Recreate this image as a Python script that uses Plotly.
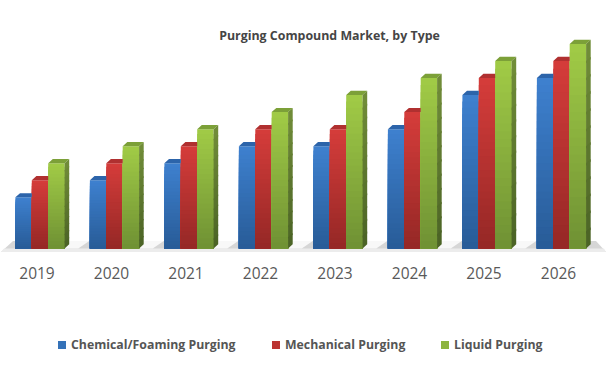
import plotly.graph_objects as go

years = ["2019", "2020", "2021", "2022", "2023", "2024", "2025", "2026"]
chemical = [3, 4, 5, 6, 6, 7, 9, 10]
mechanical = [4, 5, 6, 7, 7, 8, 10, 11]
liquid = [5, 6, 7, 8, 9, 10, 11, 12]
names = ["Chemical/Foaming Purging", "Mechanical Purging", "Liquid Purging"]

W, H = 611, 368
PX = 74.5
UNIT = 17.05
BW = 16.4 / PX
DX = 4.6 / PX
DY = 4.2 / UNIT
xpos = list(range(len(years)))
offsets = [-1.5 * BW, -0.5 * BW, 0.5 * BW]
series = [chemical, mechanical, liquid]
# (top colour, bottom colour, lid colour, side top, side bottom)
cols = [
    ((62, 128, 206), (40, 92, 152), (44, 100, 170), None, None),
    ((212, 60, 58), (150, 40, 38), (176, 48, 48), None, None),
    ((160, 202, 70), (112, 146, 52), (124, 160, 56), (112, 140, 56), (76, 100, 38)),
]

def lerp(a, b, t):
    return "rgb(%d,%d,%d)" % tuple(round(a[i] + (b[i] - a[i]) * t) for i in range(3))

fig = go.Figure()
N = 24
for s, vals in enumerate(series):
    c = cols[s]
    for k in range(N):
        frac = 1 - k / N
        fig.add_bar(
            x=xpos, y=[v * frac for v in vals], width=BW, offset=offsets[s],
            marker=dict(color=lerp(c[0], c[1], k / (N - 1)), line_width=0),
            name=names[s], showlegend=False, hoverinfo="skip",
        )
for s, vals in enumerate(series):
    c = cols[s]
    lx, ly = [], []
    for x, v in zip(xpos, vals):
        x0 = x + offsets[s]
        x1 = x0 + BW
        xr = x1 + DX if s == 2 else x1
        lx += [x0, x0 + DX, xr, x1, x0, None]
        ly += [v, v + DY, v + DY, v, v, None]
    fig.add_scatter(x=lx, y=ly, mode="lines", fill="toself", fillcolor=lerp(c[2], c[2], 0),
                    line=dict(width=0), showlegend=False, hoverinfo="skip")
# side faces of the last bar in each group
M = 12
c = cols[2]
for k in range(M):
    sx, sy = [], []
    for x, v in zip(xpos, liquid):
        x1 = x + offsets[2] + BW
        top = v * (1 - k / M)
        bot = max(v * (1 - (k + 1.15) / M), 0)
        sx += [x1, x1 + DX, x1 + DX, x1, x1, None]
        sy += [top, top + DY, bot + DY, bot, top, None]
    fig.add_scatter(x=sx, y=sy, mode="lines", fill="toself",
                    fillcolor=lerp(c[3], c[4], k / (M - 1)),
                    line=dict(width=0), showlegend=False, hoverinfo="skip")

center_px = 40.0
x_lo = -center_px / PX
x_hi = (W - center_px) / PX
base_px = 248.5
axis_px = 252.0
y_lo = -(axis_px - base_px) / UNIT
y_hi = base_px / UNIT

def fx(px):
    return x_lo + px / PX

def fy(py):
    return (base_px - py) / UNIT

shapes = [
    # floor body
    dict(type="path", layer="below", line_width=0, fillcolor="rgb(214,214,214)",
         path=f"M {fx(1)} {fy(252)} L {fx(606)} {fy(252)} L {fx(596)} {fy(241)} L {fx(13)} {fy(241)} Z"),
    # front edge
    dict(type="path", layer="below", line_width=0, fillcolor="rgb(236,236,236)",
         path=f"M {fx(1)} {fy(252)} L {fx(606)} {fy(252)} L {fx(604)} {fy(248.5)} L {fx(4)} {fy(248.5)} Z"),
]
# lighter streaks on the floor between groups
for x in xpos[:-1]:
    g = x + 0.5
    shapes.append(dict(type="path", layer="below", line_width=0, fillcolor="rgb(248,248,248)",
                       path=f"M {g-20/PX} {fy(248.5)} L {g+1/PX} {fy(248.5)} "
                            f"L {g+12/PX} {fy(241)} L {g-10/PX} {fy(241)} Z"))

# legend keys and labels placed as in the reference
legend_key_px = [58, 272, 441]
legend_text_px = [71, 285, 454]
annotations = []
for s, name in enumerate(names):
    shapes.append(dict(type="rect", xref="paper", yref="paper", line_width=0,
                       fillcolor=lerp(cols[s][0], cols[s][1], 0.4),
                       x0=legend_key_px[s] / W, x1=(legend_key_px[s] + 8) / W,
                       y0=1 - 349 / axis_px, y1=1 - 341 / axis_px))
    annotations.append(dict(xref="paper", yref="paper", x=legend_text_px[s] / W,
                            y=1 - 344.5 / axis_px, xanchor="left", yanchor="middle",
                            showarrow=False, text=f"<b>{name}</b>", xshift=-2,
                            font=dict(family="Open Sans", size=12.3, color="#555555")))

fig.update_layout(
    width=W, height=H, barmode="overlay", plot_bgcolor="white", paper_bgcolor="white",
    margin=dict(l=0, r=0, t=0, b=H - axis_px, pad=0, autoexpand=False),
    shapes=shapes, annotations=annotations, showlegend=False,
    title=dict(text="<b>Purging Compound Market, by Type</b>", x=329.5 / W, xanchor="center",
               y=1 - 35.5 / H, yanchor="middle",
               font=dict(family="Open Sans", size=12.4, color="#454545")),
    xaxis=dict(range=[x_lo, x_hi], tickvals=[x - 3 / PX for x in xpos], ticktext=years,
               showgrid=False, zeroline=False,
               showline=False, ticks="outside", ticklen=7, tickcolor="rgba(0,0,0,0)",
               tickfont=dict(family="Open Sans", size=15.5, color="#595959")),
    yaxis=dict(range=[y_lo, y_hi], visible=False, showgrid=False, zeroline=False),
)
fig.write_html("out.html", config=dict(displayModeBar=False),
               post_script="document.body.style.margin='0';")
